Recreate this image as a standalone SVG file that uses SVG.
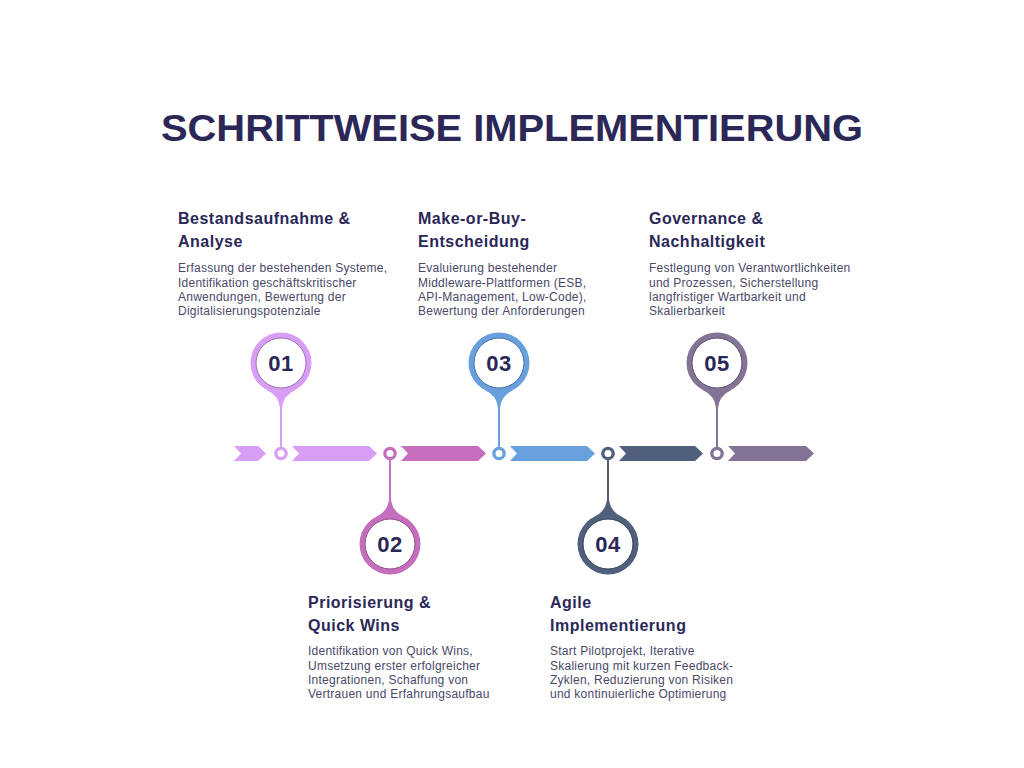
<svg xmlns="http://www.w3.org/2000/svg" width="1024" height="768" viewBox="0 0 1024 768">
<style>
.title{font-family:"Liberation Sans",Arial,sans-serif;font-weight:700;font-size:37px;fill:#2b2857}
.h{font-family:"Liberation Sans",Arial,sans-serif;font-weight:700;font-size:16px;letter-spacing:0.5px;fill:#2b2857}
.d{font-family:"Liberation Sans",Arial,sans-serif;font-size:12px;letter-spacing:0.25px;fill:#4a4868}
.num{font-family:"Liberation Sans",Arial,sans-serif;font-weight:700;font-size:22px;letter-spacing:0.5px;fill:#2b2857;text-anchor:middle}
.inner{fill:#fff;stroke-width:1}
.ring{fill:#fff;stroke-width:3.3}
</style>
<rect width="1024" height="768" fill="#fff"/>
<text class="title" x="512" y="141" text-anchor="middle" textLength="702" lengthAdjust="spacingAndGlyphs">SCHRITTWEISE IMPLEMENTIERUNG</text>

<g id="connectors">
  <polygon points="234,446 258,446 266,453.5 258,461 234,461 241,453.5" fill="#d89ef5"/>
  <polygon points="292,446 369,446 377,453.5 369,461 292,461 299,453.5" fill="#d89ef5"/>
  <polygon points="401,446 478,446 486,453.5 478,461 401,461 408,453.5" fill="#c56ebd"/>
  <polygon points="510,446 587,446 595,453.5 587,461 510,461 517,453.5" fill="#67a0dd"/>
  <polygon points="619,446 695,446 703,453.5 695,461 619,461 626,453.5" fill="#505f7b"/>
  <polygon points="728,446 806,446 814,453.5 806,461 728,461 735,453.5" fill="#837394"/>
  <line x1="281" y1="405" x2="281" y2="448" stroke="#d89ef5" stroke-width="2"/>
  <line x1="390" y1="459" x2="390" y2="503" stroke="#c56ebd" stroke-width="2"/>
  <line x1="499" y1="405" x2="499" y2="448" stroke="#67a0dd" stroke-width="2"/>
  <line x1="608" y1="459" x2="608" y2="503" stroke="#505f7b" stroke-width="2"/>
  <line x1="717" y1="405" x2="717" y2="448" stroke="#837394" stroke-width="2"/>
  <circle class="ring" cx="281" cy="453.5" r="5.2" stroke="#d89ef5"/>
  <circle class="ring" cx="390" cy="453.5" r="5.2" stroke="#c56ebd"/>
  <circle class="ring" cx="499" cy="453.5" r="5.2" stroke="#67a0dd"/>
  <circle class="ring" cx="608" cy="453.5" r="5.2" stroke="#505f7b"/>
  <circle class="ring" cx="717" cy="453.5" r="5.2" stroke="#837394"/>
</g>

<g id="step1">
  <circle cx="281" cy="363" r="30.5" fill="#d89ef5"/>
  <path d="M267,390 Q279,396 280,408 L282,408 Q283,396 295,390 Z" fill="#d89ef5"/>
  <circle class="inner" cx="281" cy="363" r="25" stroke="#9a72b4"/>
  <text class="num" x="281" y="371">01</text>
  <text class="h" x="178" y="224">Bestandsaufnahme &amp;</text>
  <text class="h" x="178" y="247">Analyse</text>
  <text class="d" x="178" y="272">Erfassung der bestehenden Systeme,</text>
  <text class="d" x="178" y="287">Identifikation geschäftskritischer</text>
  <text class="d" x="178" y="301">Anwendungen, Bewertung der</text>
  <text class="d" x="178" y="315">Digitalisierungspotenziale</text>
</g>

<g id="step2">
  <circle cx="390" cy="544" r="30.5" fill="#c56ebd"/>
  <path d="M376,517 Q388,511 389,499 L391,499 Q392,511 404,517 Z" fill="#c56ebd"/>
  <circle class="inner" cx="390" cy="544" r="25" stroke="#8f4f88"/>
  <text class="num" x="390" y="552">02</text>
  <text class="h" x="308" y="608">Priorisierung &amp;</text>
  <text class="h" x="308" y="631">Quick Wins</text>
  <text class="d" x="308" y="655">Identifikation von Quick Wins,</text>
  <text class="d" x="308" y="670">Umsetzung erster erfolgreicher</text>
  <text class="d" x="308" y="684">Integrationen, Schaffung von</text>
  <text class="d" x="308" y="698">Vertrauen und Erfahrungsaufbau</text>
</g>

<g id="step3">
  <circle cx="499" cy="363" r="30.5" fill="#67a0dd"/>
  <path d="M485,390 Q497,396 498,408 L500,408 Q501,396 513,390 Z" fill="#67a0dd"/>
  <circle class="inner" cx="499" cy="363" r="25" stroke="#4672a6"/>
  <text class="num" x="499" y="371">03</text>
  <text class="h" x="418" y="224">Make-or-Buy-</text>
  <text class="h" x="418" y="247">Entscheidung</text>
  <text class="d" x="418" y="272">Evaluierung bestehender</text>
  <text class="d" x="418" y="287">Middleware-Plattformen (ESB,</text>
  <text class="d" x="418" y="301">API-Management, Low-Code),</text>
  <text class="d" x="418" y="315">Bewertung der Anforderungen</text>
</g>

<g id="step4">
  <circle cx="608" cy="544" r="30.5" fill="#505f7b"/>
  <path d="M594,517 Q606,511 607,499 L609,499 Q610,511 622,517 Z" fill="#505f7b"/>
  <circle class="inner" cx="608" cy="544" r="25" stroke="#36425a"/>
  <text class="num" x="608" y="552">04</text>
  <text class="h" x="550" y="608">Agile</text>
  <text class="h" x="550" y="631">Implementierung</text>
  <text class="d" x="550" y="655">Start Pilotprojekt, Iterative</text>
  <text class="d" x="550" y="670">Skalierung mit kurzen Feedback-</text>
  <text class="d" x="550" y="684">Zyklen, Reduzierung von Risiken</text>
  <text class="d" x="550" y="698">und kontinuierliche Optimierung</text>
</g>

<g id="step5">
  <circle cx="717" cy="363" r="30.5" fill="#837394"/>
  <path d="M703,390 Q715,396 716,408 L718,408 Q719,396 731,390 Z" fill="#837394"/>
  <circle class="inner" cx="717" cy="363" r="25" stroke="#5e5070"/>
  <text class="num" x="717" y="371">05</text>
  <text class="h" x="649" y="224">Governance &amp;</text>
  <text class="h" x="649" y="247">Nachhaltigkeit</text>
  <text class="d" x="649" y="272">Festlegung von Verantwortlichkeiten</text>
  <text class="d" x="649" y="287">und Prozessen, Sicherstellung</text>
  <text class="d" x="649" y="301">langfristiger Wartbarkeit und</text>
  <text class="d" x="649" y="315">Skalierbarkeit</text>
</g>
</svg>
